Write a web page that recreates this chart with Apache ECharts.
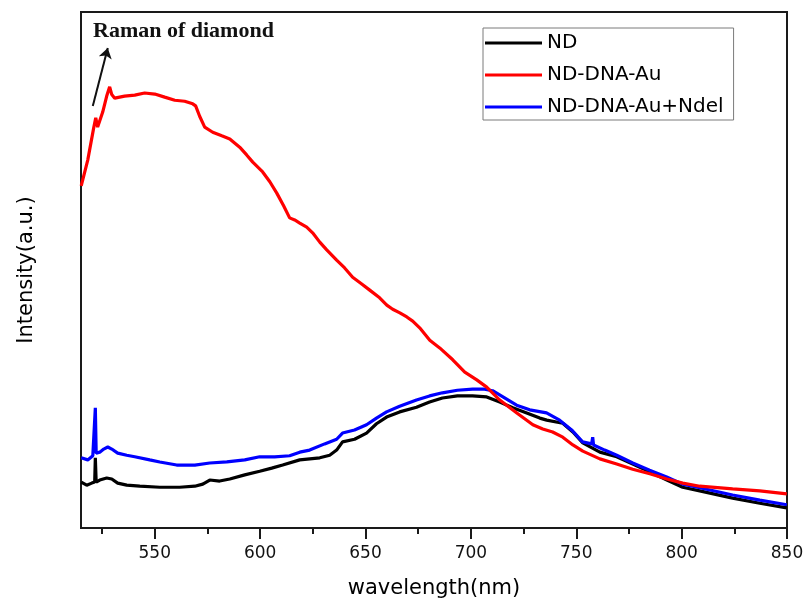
<!DOCTYPE html>
<html>
<head>
<meta charset="utf-8">
<script src="https://cdn.jsdelivr.net/npm/echarts@6/dist/echarts.min.js"></script>
<style>
  html, body { margin: 0; padding: 0; background: #fff; }
  #chart { width: 809px; height: 612px; }
</style>
</head>
<body>
<div id="chart"></div>
<script>
// Photoluminescence spectra (wavelength in nm, intensity in arbitrary units)
const ndWave = [515.1, 517.7, 520.1, 521.5, 521.8, 522.2, 523.9, 527.2, 529.6, 532.4, 536.7, 542.9, 552.4, 561.8, 569.0, 572.8, 576.1, 580.8, 585.6, 592.7, 599.8, 605.5, 610.7, 618.8, 628.3, 633.0, 636.3, 639.1, 644.8, 650.5, 655.2, 660.0, 666.2, 674.2, 680.4, 686.5, 693.6, 700.8, 707.5, 713.7, 719.9, 726.5, 732.7, 736.0, 743.6, 748.4, 753.1, 761.2, 769.2, 776.8, 784.9, 793.0, 800.5, 808.6, 824.2, 837.1, 849.9];
const ndInt = [8.9, 8.3, 8.7, 8.9, 13.6, 8.9, 9.3, 9.7, 9.5, 8.7, 8.3, 8.1, 7.9, 7.9, 8.1, 8.5, 9.3, 9.1, 9.5, 10.3, 11.0, 11.6, 12.2, 13.2, 13.6, 14.1, 15.1, 16.7, 17.2, 18.4, 20.2, 21.5, 22.5, 23.4, 24.4, 25.2, 25.6, 25.6, 25.4, 24.4, 23.3, 22.3, 21.3, 20.9, 20.3, 18.6, 16.5, 14.7, 13.8, 12.4, 10.9, 9.3, 7.9, 7.2, 5.8, 4.8, 3.9];

const auWave = [515.1, 518.2, 521.0, 522.0, 522.9, 525.3, 527.2, 528.6, 529.6, 531.0, 535.7, 540.5, 545.2, 550.0, 554.7, 559.5, 564.2, 568.0, 569.4, 571.3, 573.7, 577.5, 581.8, 585.6, 590.3, 593.6, 596.5, 601.2, 604.6, 607.9, 611.2, 614.0, 616.4, 618.8, 622.1, 624.9, 628.3, 631.6, 636.3, 640.1, 643.9, 648.2, 652.0, 656.7, 660.1, 662.9, 666.3, 669.6, 672.4, 675.7, 680.5, 685.2, 691.4, 697.1, 702.8, 707.5, 713.7, 721.8, 729.4, 734.1, 738.8, 743.6, 748.4, 753.1, 761.2, 769.2, 776.8, 784.9, 793.0, 800.5, 808.6, 824.2, 837.1, 849.9];
const auInt = [66.3, 71.3, 77.5, 79.5, 77.7, 80.6, 83.7, 85.5, 84.0, 83.3, 83.7, 83.9, 84.3, 84.1, 83.5, 82.9, 82.7, 82.2, 81.8, 79.8, 77.7, 76.7, 76.0, 75.4, 73.8, 72.3, 70.9, 69.0, 67.1, 64.9, 62.4, 60.1, 59.7, 59.1, 58.3, 57.2, 55.4, 53.9, 51.9, 50.4, 48.6, 47.3, 46.1, 44.6, 43.2, 42.4, 41.7, 40.9, 40.1, 38.8, 36.4, 34.9, 32.6, 30.2, 28.7, 27.3, 24.8, 22.3, 20.0, 19.2, 18.6, 17.6, 16.1, 14.9, 13.4, 12.4, 11.4, 10.5, 9.5, 8.7, 8.1, 7.6, 7.2, 6.6];

const ndelWave = [515.1, 518.2, 520.6, 521.5, 521.8, 522.2, 523.9, 525.8, 527.7, 529.6, 532.4, 536.7, 540.5, 547.6, 552.4, 560.4, 569.0, 576.1, 584.2, 592.7, 599.8, 606.9, 614.0, 618.8, 623.5, 630.6, 636.3, 639.1, 644.8, 650.5, 655.2, 660.0, 666.2, 674.2, 680.4, 686.5, 693.6, 700.8, 706.5, 710.3, 716.0, 721.7, 727.9, 735.9, 742.1, 747.8, 753.0, 757.3, 757.8, 758.2, 763.5, 769.2, 776.8, 784.8, 792.9, 800.5, 808.6, 824.2, 837.1, 849.9];
const ndelInt = [13.6, 13.2, 14.0, 14.3, 23.3, 14.5, 14.7, 15.3, 15.7, 15.3, 14.5, 14.1, 13.8, 13.2, 12.8, 12.2, 12.2, 12.6, 12.8, 13.2, 13.8, 13.8, 14.0, 14.7, 15.1, 16.3, 17.2, 18.4, 19.0, 20.0, 21.3, 22.5, 23.6, 24.8, 25.6, 26.2, 26.7, 26.9, 26.9, 26.6, 25.2, 23.8, 22.9, 22.3, 20.9, 19.0, 16.7, 16.3, 17.6, 16.1, 15.1, 14.1, 12.6, 11.2, 9.9, 8.5, 7.8, 6.4, 5.4, 4.5];

// Axis settings
const xMin = 515;
const xMax = 850;
const majorTicks = [550, 600, 650, 700, 750, 800, 850];
const minorTicks = [525, 575, 625, 675, 725, 775, 825];

// Diamond Raman annotation arrow (data coordinates)
const ramanArrow = [[520.6, 81.8], [527.7, 93.0]];

const seriesNames = ['ND', 'ND-DNA-Au', 'ND-DNA-Au+Ndel'];
const seriesColors = ['#000000', '#ff0000', '#0000ff'];

const pair = (xs, ys) => xs.map((x, i) => [x, ys[i]]);

const FRAME = '#1a1a1a';
const SANS = '"DejaVu Sans", sans-serif';

const chart = echarts.init(document.getElementById('chart'), null, { renderer: 'canvas' });

chart.setOption({
  animation: false,
  backgroundColor: '#ffffff',
  grid: {
    left: 81, right: 22, top: 12, bottom: 84,
    show: true, borderColor: FRAME, borderWidth: 2, backgroundColor: 'transparent'
  },
  legend: {
    data: seriesNames,
    orient: 'vertical',
    left: 483, top: 28,
    padding: [4, 10, 2, 2],
    itemGap: 10,
    itemWidth: 57,
    itemHeight: 3,
    icon: 'rect',
    borderColor: '#7a7a7a',
    borderWidth: 1,
    borderRadius: 0,
    textStyle: { fontFamily: SANS, fontSize: 20, color: '#000', padding: [0, 0, 0, 0], lineHeight: 22 }
  },
  xAxis: [
    {
      type: 'value',
      min: xMin, max: xMax,
      name: 'wavelength(nm)',
      nameLocation: 'middle',
      nameGap: 50,
      nameTextStyle: { fontFamily: SANS, fontSize: 21, color: '#000' },
      axisLine: { show: true, lineStyle: { color: FRAME, width: 2 } },
      axisTick: { show: true, customValues: majorTicks, length: 11, lineStyle: { color: FRAME, width: 2 } },
      axisLabel: { show: true, customValues: majorTicks, margin: 17, fontFamily: SANS, fontSize: 17, color: '#111' },
      splitLine: { show: false }
    },
    {
      type: 'value',
      min: xMin, max: xMax,
      position: 'bottom',
      axisLine: { show: false },
      axisTick: { show: true, customValues: minorTicks, length: 6, lineStyle: { color: FRAME, width: 2 } },
      axisLabel: { show: false },
      splitLine: { show: false }
    }
  ],
  yAxis: {
    type: 'value',
    min: 0, max: 100,
    name: 'Intensity(a.u.)',
    nameLocation: 'middle',
    nameGap: 44,
    nameTextStyle: { fontFamily: SANS, fontSize: 21, color: '#000' },
    axisLine: { show: true, lineStyle: { color: FRAME, width: 2 } },
    axisTick: { show: false },
    axisLabel: { show: false },
    splitLine: { show: false }
  },
  graphic: [
    {
      type: 'text',
      left: 93, top: 20,
      style: {
        text: 'Raman of diamond',
        font: 'bold 22px "Liberation Serif", "Times New Roman", serif',
        fill: '#111'
      }
    }
  ],
  series: [
    {
      name: seriesNames[0], type: 'line', xAxisIndex: 0,
      data: pair(ndWave, ndInt),
      showSymbol: false, symbol: 'none',
      lineStyle: { color: seriesColors[0], width: 3.2 },
      itemStyle: { color: seriesColors[0] },
      z: 2
    },
    {
      name: seriesNames[2], type: 'line', xAxisIndex: 0,
      data: pair(ndelWave, ndelInt),
      showSymbol: false, symbol: 'none',
      lineStyle: { color: seriesColors[2], width: 3.2 },
      itemStyle: { color: seriesColors[2] },
      z: 3
    },
    {
      name: seriesNames[1], type: 'line', xAxisIndex: 0,
      data: pair(auWave, auInt),
      showSymbol: false, symbol: 'none',
      lineStyle: { color: seriesColors[1], width: 3.2 },
      itemStyle: { color: seriesColors[1] },
      z: 4,
      markLine: {
        silent: true,
        symbol: ['none', 'arrow'],
        symbolSize: 10,
        label: { show: false },
        emphasis: { disabled: true },
        lineStyle: { color: '#111', width: 2, type: 'solid' },
        itemStyle: { color: '#111' },
        data: [[{ coord: ramanArrow[0] }, { coord: ramanArrow[1] }]]
      }
    }
  ]
});
</script>
</body>
</html>
